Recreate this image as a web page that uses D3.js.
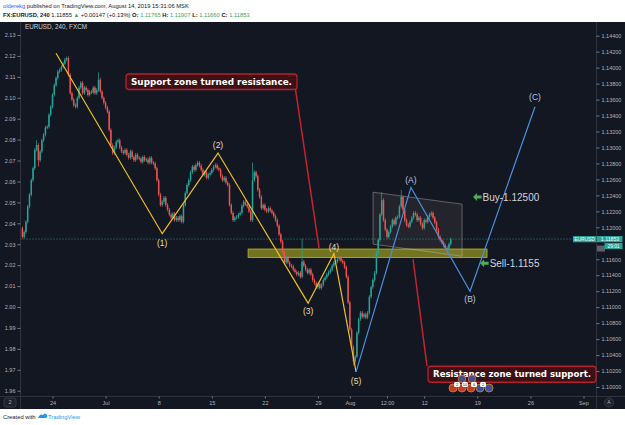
<!DOCTYPE html>
<html><head><meta charset="utf-8">
<script src="https://cdn.jsdelivr.net/npm/d3@7"></script>
<style>html,body{margin:0;padding:0;background:#fff;}svg{display:block;}</style>
</head><body><svg id="c" width="625" height="425"></svg>
<script>
// ---------------- DATA ----------------
const startIndex = -17;          // bar index of first candle (0 = Jun 24 00:00, 4h bars)
const firstOpen = 1.1199;
const closes = [
1.1188,1.1194,1.1207,1.1226,1.1241,1.1259,1.1274,1.1297,1.1303,1.1284,
1.1295,1.1309,1.1316,1.1325,1.1326,1.1341,1.1351,1.1366,1.1378,1.1387,
1.1395,1.1397,1.1401,1.1405,1.1410,1.1412,1.1391,1.1368,1.1360,1.1353,
1.1351,1.1362,1.1375,1.1381,1.1368,1.1375,1.1372,1.1366,1.1370,1.1369,
1.1375,1.1368,1.1372,1.1385,1.1370,1.1362,1.1356,1.1350,1.1345,1.1322,
1.1303,1.1293,1.1300,1.1307,1.1309,1.1300,1.1295,1.1293,1.1297,1.1291,
1.1287,1.1295,1.1288,1.1284,1.1291,1.1287,1.1286,1.1282,1.1288,1.1284,
1.1285,1.1281,1.1287,1.1281,1.1280,1.1274,1.1259,1.1241,1.1228,1.1232,
1.1237,1.1228,1.1222,1.1216,1.1212,1.1217,1.1209,1.1212,1.1209,1.1214,
1.1207,1.1228,1.1243,1.1253,1.1259,1.1269,1.1276,1.1272,1.1278,1.1281,
1.1277,1.1272,1.1266,1.1269,1.1262,1.1266,1.1268,1.1272,1.1276,1.1278,
1.1274,1.1272,1.1264,1.1259,1.1262,1.1256,1.1253,1.1228,1.1218,1.1209,
1.1212,1.1213,1.1216,1.1218,1.1227,1.1232,1.1229,1.1226,1.1220,1.1209,
1.1259,1.1269,1.1264,1.1247,1.1238,1.1224,1.1228,1.1222,1.1220,1.1224,
1.1221,1.1218,1.1214,1.1209,1.1202,1.1191,1.1182,1.1169,1.1156,1.1162,
1.1156,1.1152,1.1151,1.1147,1.1144,1.1141,1.1143,1.1138,1.1157,1.1152,
1.1147,1.1143,1.1147,1.1141,1.1134,1.1130,1.1125,1.1129,1.1124,1.1128,
1.1134,1.1137,1.1141,1.1144,1.1147,1.1152,1.1156,1.1157,1.1160,1.1162,
1.1158,1.1156,1.1150,1.1138,1.1106,1.1072,1.1050,1.1032,1.1038,1.1068,
1.1085,1.1093,1.1088,1.1091,1.1087,1.1093,1.1113,1.1125,1.1134,1.1143,
1.1168,1.1184,1.1216,1.1234,1.1209,1.1197,1.1188,1.1194,1.1201,1.1209,
1.1204,1.1212,1.1213,1.1226,1.1238,1.1222,1.1209,1.1203,1.1201,1.1207,
1.1212,1.1218,1.1216,1.1209,1.1212,1.1204,1.1199,1.1209,1.1207,1.1213,
1.1216,1.1218,1.1212,1.1206,1.1197,1.1188,1.1184,1.1181,1.1177,1.1174,
1.1173,1.1179,1.1185
];
// notable wicks: [barIndex, high, low]
const spikes = [[-9,1.1309,null],[-8,null,1.1276],[8,1.1414,null],[26,1.1394,null],
  [113,1.1281,null],[141,1.1186,null],[170,null,1.1027],[186,1.1244,null],[197,1.1247,null]];
const lastPrice = 1.11853;

const leftTicks = [2.13,2.12,2.11,2.10,2.09,2.08,2.07,2.06,2.05,2.04,2.03,2.02,2.01,2.00,1.99,1.98,1.97,1.96];
const rightTicks = [1.144,1.142,1.140,1.138,1.136,1.134,1.132,1.130,1.128,1.126,1.124,1.122,1.120,1.116,1.114,1.112,1.110,1.108,1.106,1.104,1.102,1.100];
const timeTickIdx = [0,30,60,90,120,150,168,189,210,240,270,300];
const timeTickLbl = ["24","Jul","8","15","22","29","Aug","12:00","12","19","26","Sep"];

// Elliott wave drawing points [barIndex, price]
const wavePts = [[2,1.1418],[62,1.1192],[93.5,1.1293],[144.4,1.1105],[159,1.1167],[171.5,1.1019]];
const waveLbl = ["","(1)","(2)","(3)","(4)","(5)"];
const abcPts = [[171.5,1.1019],[202.5,1.1250],[235.9,1.1120],[272.6,1.1351]];
const abcLbl = ["","(A)","(B)","(C)"];
const zone = {i0:110.5, i1:245.5, p0:1.11621, p1:1.11728};
const channel = [[181.1,1.1244],[231.4,1.1229],[231.4,1.11638],[181.1,1.11789]];
const redLine1 = [[137,1.1377],[150.6,1.1174]];
const redLine2 = [[203.7,1.1160],[211.6,1.1026]];
const buy = {i:237.6, p:1.1238, text:"Buy-1.12500"};
const sell = {i:241.6, p:1.1155, text:"Sell-1.1155"};

// ---------------- CHART ----------------
const W=625,H=425;
const L=20.5,R=596.5,T=22,B=396.5;
const svg=d3.select('#c');
const F="'Liberation Sans', Arial, sans-serif";
svg.append('rect').attr('width',W).attr('height',H).attr('fill','#ffffff');
svg.append('rect').attr('x',0).attr('y',22).attr('width',W).attr('height',387).attr('fill','#131722');

const x = d3.scaleLinear().domain([0,300]).range([52.5,583.5]);
const yR = d3.scaleLinear().domain([1.100,1.144]).range([387,35.7]);
const yL = d3.scaleLinear().domain([1.96,2.13]).range([390.7,35]);

svg.append('defs').append('clipPath').attr('id','clip')
  .append('rect').attr('x',L).attr('y',T).attr('width',R-L).attr('height',B-T);

// separators
const sep='#2f3340';
svg.append('line').attr('x1',L).attr('x2',L).attr('y1',T).attr('y2',409).attr('stroke',sep);
svg.append('line').attr('x1',R).attr('x2',R).attr('y1',T).attr('y2',409).attr('stroke',sep);
svg.append('line').attr('x1',0).attr('x2',W).attr('y1',B).attr('y2',B).attr('stroke',sep);

const plot = svg.append('g').attr('clip-path','url(#clip)');

// price line
plot.append('line').attr('x1',L).attr('x2',R).attr('y1',yR(lastPrice)).attr('y2',yR(lastPrice))
  .attr('stroke','#2a8a80').attr('stroke-dasharray','1,2').attr('stroke-width',1);

// zone
plot.append('rect').attr('x',x(zone.i0)).attr('width',x(zone.i1)-x(zone.i0))
  .attr('y',yR(zone.p1)).attr('height',yR(zone.p0)-yR(zone.p1))
  .attr('fill','rgba(175,175,30,0.62)').attr('stroke','#b8b820').attr('stroke-width',0.8);

// channel
plot.append('path').attr('d', d3.line().x(d=>x(d[0])).y(d=>yR(d[1]))(channel)+'Z')
  .attr('fill','rgba(190,170,140,0.10)').attr('stroke','rgba(200,200,200,0.5)').attr('stroke-width',0.8);

// candles
const candles = closes.map((c,k)=>{
  const i=startIndex+k, o = k? closes[k-1] : firstOpen;
  const pad=0.00022;
  let h=Math.max(o,c)+pad, l=Math.min(o,c)-pad;
  const s=spikes.find(s=>s[0]===i);
  if(s){ if(s[1]!==null) h=s[1]; if(s[2]!==null) l=s[2]; }
  return {i,o,c,h,l,up:c>=o};
});
const up='#26a69a', dn='#ef5350';
plot.selectAll('rect.wick').data(candles).join('rect').attr('class','wick')
  .attr('x',d=>x(d.i)-0.35).attr('width',0.7)
  .attr('y',d=>yR(d.h)).attr('height',d=>Math.max(1,yR(d.l)-yR(d.h)))
  .attr('fill',d=>d.up?up:dn);
plot.selectAll('rect.body').data(candles).join('rect').attr('class','body')
  .attr('x',d=>x(d.i)-0.75).attr('width',1.5)
  .attr('y',d=>yR(Math.max(d.o,d.c))).attr('height',d=>Math.max(1,Math.abs(yR(d.o)-yR(d.c))))
  .attr('fill',d=>d.up?up:dn);

// wave lines
const ln = d3.line().x(d=>x(d[0])).y(d=>yR(d[1]));
plot.append('path').attr('d',ln(wavePts)).attr('fill','none').attr('stroke','#f0c020').attr('stroke-width',1.2);
plot.append('path').attr('d',ln(abcPts)).attr('fill','none').attr('stroke','#4a8fe0').attr('stroke-width',1.2);
const wOff=[0,9,-8,8,-7,9];
wavePts.forEach((p,k)=>{ if(!waveLbl[k]) return;
  plot.append('text').attr('x',x(p[0])).attr('y',yR(p[1])+wOff[k]).attr('dy','0.35em')
   .attr('text-anchor','middle').attr('font-family',F).attr('font-size',8.5).attr('fill','#e8dfb8').text(waveLbl[k]);});
const aOff=[0,-7,8,-10];
abcPts.forEach((p,k)=>{ if(!abcLbl[k]) return;
  plot.append('text').attr('x',x(p[0])).attr('y',yR(p[1])+aOff[k]).attr('dy','0.35em')
   .attr('text-anchor','middle').attr('font-family',F).attr('font-size',8.5).attr('fill','#b4c8e6').text(abcLbl[k]);});

// red pointer lines
[redLine1,redLine2].forEach(rl=>{
  plot.append('path').attr('d',ln(rl)).attr('stroke','#c8232c').attr('stroke-width',1.5).attr('fill','none');
});

// callout boxes
function callout(x0,y0,w,h,txt){
  const g=svg.append('g');
  g.append('rect').attr('x',x0).attr('y',y0).attr('width',w).attr('height',h).attr('rx',3)
    .attr('fill','#3d1016').attr('stroke','#b3222c').attr('stroke-width',1.3);
  g.append('text').attr('x',x0+w/2).attr('y',y0+h/2).attr('dy','0.36em').attr('text-anchor','middle')
    .attr('font-family',"'DejaVu Sans', Verdana, sans-serif").attr('font-weight','bold').attr('font-size',9)
    .attr('fill','#ffffff').attr('textLength',w-10).attr('lengthAdjust','spacingAndGlyphs').text(txt);
}
const p1 = [x(redLine1[0][0]), yR(redLine1[0][1])];
callout(p1[0]-169, p1[1]-12, 171, 15.5, "Support zone turned resistance.");
const p2 = [x(redLine2[1][0]), yR(redLine2[1][1])];
callout(p2[0]+1, p2[1], 168, 16, "Resistance zone turned support.");

// buy / sell markers
function marker(m){
  const ax=x(m.i), ay=yR(m.p);
  svg.append('path').attr('d',`M${ax},${ay} l4,-4 v2.4 h4.5 v3.2 h-4.5 v2.4 z`).attr('fill','#4caf50');
  svg.append('text').attr('x',ax+9.5).attr('y',ay).attr('dy','0.36em').attr('font-family',F)
    .attr('font-size',10).attr('fill','#d1d4dc').text(m.text);
}
marker(buy); marker(sell);

// economic event icons
const evX=[453,462,471,480,489];
const evC=['#c0392b','#c0392b','#c0392b','#3b4fa0','#3b4fa0'];
svg.selectAll('circle.ev2').data(evX).join('circle').attr('cx',d=>d).attr('cy',388).attr('r',4)
  .attr('fill',(d,k)=>evC[k]).attr('stroke','#e08a20').attr('stroke-width',0.8);
svg.selectAll('circle.ev1').data([462,472]).join('circle').attr('cx',d=>d).attr('cy',379).attr('r',3.8)
  .attr('fill','#4a4a88').attr('stroke','#d08030').attr('stroke-width',0.8);
const badges=[["2",457],["10",465],["6",474],["2",483]];
badges.forEach(b=>{
  svg.append('rect').attr('x',b[1]-3).attr('y',382).attr('width',6).attr('height',5).attr('rx',1.5).attr('fill','#fff');
  svg.append('text').attr('x',b[1]).attr('y',384.6).attr('dy','0.35em').attr('text-anchor','middle')
   .attr('font-family',F).attr('font-size',4).attr('fill','#222').text(b[0]);
});

// axes
function styleAxis(g){
  g.select('.domain').remove();
  g.selectAll('line').attr('stroke','#787b86');
  g.selectAll('text').attr('fill','#b2b5be').attr('font-family',F).attr('font-size',5.5);
}
svg.append('g').attr('transform',`translate(${L},0)`)
  .call(d3.axisLeft(yL).tickValues(leftTicks).tickFormat(d3.format('.2f')).tickSize(3).tickPadding(2)).call(styleAxis);
svg.append('g').attr('transform',`translate(${R},0)`)
  .call(d3.axisRight(yR).tickValues(rightTicks).tickFormat(d3.format('.5f')).tickSize(3).tickPadding(2)).call(styleAxis);
svg.append('g').attr('transform',`translate(0,${B})`)
  .call(d3.axisBottom(x).tickValues(timeTickIdx).tickFormat((d,k)=>timeTickLbl[k]).tickSize(2).tickPadding(2.5)).call(styleAxis);

// price tags
const yp=yR(lastPrice);
svg.append('rect').attr('x',597).attr('y',yp+6.5).attr('width',8).attr('height',6).attr('fill','#5d606b');
svg.append('rect').attr('x',573).attr('y',yp-3).attr('width',23).attr('height',6.2).attr('fill','#26a69a');
svg.append('text').attr('x',584.5).attr('y',yp).attr('dy','0.35em').attr('text-anchor','middle')
  .attr('font-family',F).attr('font-size',4.8).attr('fill','#fff').text('EURUSD');
svg.append('rect').attr('x',596.5).attr('y',yp-3).attr('width',26).attr('height',6.2).attr('fill','#26a69a');
svg.append('text').attr('x',610).attr('y',yp).attr('dy','0.35em').attr('text-anchor','middle')
  .attr('font-family',F).attr('font-size',5.2).attr('fill','#fff').text('1.11853');
svg.append('rect').attr('x',604.5).attr('y',yp+4).attr('width',18).attr('height',6).attr('fill','#26a69a');
svg.append('text').attr('x',613.5).attr('y',yp+7).attr('dy','0.35em').attr('text-anchor','middle')
  .attr('font-family',F).attr('font-size',4.8).attr('fill','#fff').text('29:01');

// corner icons
svg.append('rect').attr('x',4).attr('y',398).attr('width',12).attr('height',9).attr('rx',2).attr('fill','#1e222d').attr('stroke','#363a45');
svg.append('text').attr('x',10).attr('y',402.5).attr('dy','0.35em').attr('text-anchor','middle')
  .attr('font-family',F).attr('font-size',5.5).attr('fill','#b2b5be').text('2');
svg.append('circle').attr('cx',609).attr('cy',402.5).attr('r',4.5).attr('fill','#1e222d').attr('stroke','#363a45');
svg.append('text').attr('x',609).attr('y',402.5).attr('dy','0.35em').attr('text-anchor','middle')
  .attr('font-family',F).attr('font-size',5).attr('fill','#b2b5be').text('A');

// chart title
svg.append('text').attr('x',25).attr('y',27).attr('dy','0.35em').attr('font-family',F).attr('font-size',6.3)
  .attr('fill','#d1d4dc').text('EURUSD, 240, FXCM');

// header
const h1=svg.append('text').attr('x',3).attr('y',8).attr('font-family',F).attr('font-size',5.8);
h1.append('tspan').attr('fill','#2962ff').text('olderekg');
h1.append('tspan').attr('fill','#131722').text(' published on TradingView.com, August 14, 2019 15:31:06 MSK');
const h2=svg.append('text').attr('x',3).attr('y',16.5).attr('font-family',F).attr('font-size',5.8).attr('fill','#131722');
const g2=[['FX:EURUSD, 240 ','#131722','bold'],['1.11855 ','#131722','normal'],['\u25B2','#3aa757','normal'],
 [' +0.00147 (+0.13%) ','#131722','normal'],['O:','#131722','bold'],[' 1.11765 ','#3aa757','normal'],
 ['H:','#131722','bold'],[' 1.11907 ','#3aa757','normal'],['L:','#131722','bold'],[' 1.11660 ','#3aa757','normal'],
 ['C:','#131722','bold'],[' 1.11853','#3aa757','normal']];
g2.forEach(t=>h2.append('tspan').attr('fill',t[1]).attr('font-weight',t[2]).text(t[0]));

// footer
svg.append('text').attr('x',3).attr('y',419).attr('font-family',F).attr('font-size',5.8).attr('fill','#131722').text('Created with');
svg.append('path').attr('d','M38,418 q2,-5 5,-3 q2,-3 4,0 q1,3 -2,3 z').attr('fill','#2196f3');
svg.append('text').attr('x',48).attr('y',419).attr('font-family',F).attr('font-size',5.8).attr('fill','#2196f3').text('TradingView');
</script></body></html>
